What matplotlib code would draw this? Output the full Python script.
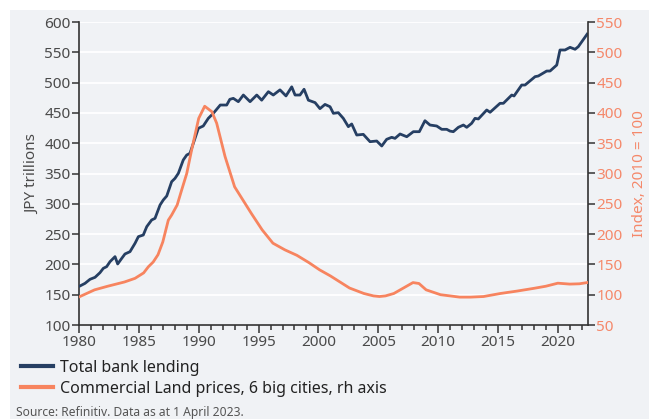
import matplotlib.pyplot as plt
from matplotlib.patches import Rectangle
from matplotlib.lines import Line2D
from matplotlib.ticker import MultipleLocator

plt.rcParams['font.family'] = ['Noto Sans', 'DejaVu Sans']

# Total bank lending, JPY trillions (left axis)
lend_year = [1980.08, 1980.5, 1980.92, 1981.34, 1981.75, 1982.03, 1982.31, 1982.59, 1983.01, 1983.23,
             1983.57, 1983.84, 1984.26, 1984.68, 1984.96, 1985.37, 1985.66, 1986.07, 1986.35, 1986.77,
             1987.04, 1987.33, 1987.74, 1988.02, 1988.3, 1988.71, 1989.0, 1989.27, 1989.69, 1989.97,
             1990.38, 1990.8, 1991.22, 1991.8, 1992.34, 1992.6, 1992.89, 1993.31, 1993.73, 1994.29,
             1994.85, 1995.26, 1995.82, 1996.23, 1996.79, 1997.29, 1997.77, 1998.05, 1998.46, 1998.8,
             1999.16, 1999.72, 2000.13, 2000.55, 2000.97, 2001.25, 2001.66, 2002.08, 2002.5, 2002.78,
             2003.2, 2003.75, 2004.31, 2004.87, 2005.29, 2005.7, 2006.12, 2006.4, 2006.82, 2007.38,
             2007.93, 2008.43, 2008.9, 2009.32, 2009.88, 2010.3, 2010.72, 2010.99, 2011.27, 2011.69,
             2012.11, 2012.39, 2012.8, 2013.08, 2013.36, 2014.06, 2014.34, 2015.17, 2015.45, 2016.15,
             2016.34, 2016.98, 2017.26, 2018.1, 2018.37, 2019.07, 2019.35, 2019.91, 2020.18, 2020.6,
             2021.02, 2021.44, 2021.71, 2022.45]
lend_val = [164.4, 168.7, 175.4, 178.7, 186.3, 193.5, 196.3, 204.5, 212.8, 200.7,
            210.0, 217.2, 221.0, 234.8, 245.8, 248.5, 262.3, 273.3, 276.0, 298.0,
            306.3, 312.9, 336.5, 342.0, 350.3, 372.3, 380.5, 383.3, 408.0, 424.6,
            428.4, 441.0, 449.3, 463.0, 463.0, 472.4, 474.0, 468.5, 479.5, 468.5,
            479.5, 471.0, 485.0, 479.5, 488.0, 478.0, 493.0, 479.5, 479.5, 489.0,
            471.0, 467.0, 457.0, 464.0, 460.2, 449.3, 450.4, 441.0, 427.3, 431.7,
            413.5, 414.6, 402.5, 403.6, 395.4, 406.4, 409.7, 408.0, 415.2, 410.7,
            419.0, 419.0, 437.1, 430.0, 428.4, 422.9, 422.9, 420.0, 419.0, 426.2,
            430.0, 426.2, 432.8, 441.0, 440.0, 454.8, 451.0, 465.8, 465.8, 479.5,
            477.9, 496.0, 496.0, 509.8, 510.9, 519.1, 519.1, 529.0, 553.8, 553.8,
            558.2, 555.0, 559.3, 580.0]

# Commercial land prices, 6 big cities, index 2010 = 100 (right axis)
land_year = [1980.08, 1981.3, 1982.4, 1983.8, 1984.68, 1985.4, 1985.79, 1986.2, 1986.6, 1987.0,
             1987.46, 1987.74, 1988.2, 1988.58, 1989.0, 1989.41, 1990.0, 1990.5, 1991.1, 1991.5,
             1992.2, 1993.0, 1994.4, 1995.3, 1996.2, 1997.2, 1998.2, 1999.2, 2000.1, 2001.0,
             2002.6, 2003.8, 2004.6, 2005.1, 2005.6, 2006.3, 2007.1, 2007.9, 2008.4, 2009.0,
             2010.2, 2011.8, 2012.7, 2013.8, 2015.2, 2016.6, 2018.0, 2019.0, 2020.0, 2021.0,
             2021.8, 2022.45]
land_val = [97, 108, 114, 121, 127, 136, 146, 154, 166, 187,
            223, 231.5, 248, 273, 300, 339, 391, 411, 402, 383,
            328, 278, 234, 207, 185, 174, 165, 153, 141, 131,
            111, 102, 98, 97, 98, 102, 111, 120, 118.5, 108,
            100, 96, 96, 97, 102, 106, 110.5, 114, 119, 117.5,
            118, 120]

lend_label = 'Total bank lending'
land_label = 'Commercial Land prices, 6 big cities, rh axis'
source = 'Source: Refinitiv. Data as at 1 April 2023.'

navy = '#263f63'
salmon = '#f7845f'
salmon_txt = '#f5886a'
grey_txt = '#4a4a4a'
bg = '#f0f2f5'

fig = plt.figure(figsize=(6.49, 4.19), dpi=100, facecolor='white')
fig.patches.append(Rectangle((10 / 649, 0), 1, 1 - 10 / 419, transform=fig.transFigure,
                             facecolor=bg, edgecolor='none', zorder=-10))

ax = fig.add_axes([79 / 649, 1 - 325 / 419, (588 - 79) / 649, (325 - 22) / 419])
ax.set_facecolor(bg)
ax2 = ax.twinx()

ax.set_xlim(1980, 2022.52)
ax.set_ylim(100, 600)
ax2.set_ylim(50, 550)

ax.yaxis.set_major_locator(MultipleLocator(50))
ax2.yaxis.set_major_locator(MultipleLocator(50))
ax.xaxis.set_major_locator(MultipleLocator(5))
ax.xaxis.set_minor_locator(MultipleLocator(1))
ax.grid(axis='y', color='white', linewidth=1.3)
ax.set_axisbelow(True)

ax.plot(lend_year, lend_val, color=navy, linewidth=2.0, zorder=3)
ax2.plot(land_year, land_val, color=salmon, linewidth=2.0, zorder=3)

for a in (ax, ax2):
    a.spines['top'].set_visible(False)
    for s in ('left', 'right', 'bottom'):
        a.spines[s].set_color('#333333')
        a.spines[s].set_linewidth(1.2)
ax.spines['right'].set_visible(False)
ax2.spines['left'].set_visible(False)
ax2.spines['bottom'].set_visible(False)

ax.tick_params(axis='y', length=5, width=1.1, color='#333333', labelcolor=grey_txt, labelsize=11, pad=1)
ax.tick_params(axis='x', which='major', length=6, width=1.1, color='#333333', labelcolor=grey_txt, labelsize=11, pad=1)
ax.tick_params(axis='x', which='minor', length=3.5, width=1.1, color='#333333')
ax2.tick_params(axis='y', length=5, width=1.1, color='#333333', labelcolor=salmon_txt, labelsize=11, pad=1)

ax.set_ylabel('JPY trillions', color=grey_txt, fontsize=11, labelpad=3)
ax2.set_ylabel('Index, 2010 = 100', color=salmon_txt, fontsize=11, labelpad=7)

handles = [Line2D([], [], color=navy, linewidth=3), Line2D([], [], color=salmon, linewidth=3)]
fig.legend(handles, [lend_label, land_label], loc='upper left', bbox_to_anchor=(21 / 649, 1 - 360 / 419),
           frameon=False, fontsize=11.5, handlelength=2.0, handletextpad=0.45, labelspacing=0.3,
           borderaxespad=0, borderpad=0, labelcolor='#222222')

fig.text(16 / 649, 1 - 412 / 419, source, fontsize=8.7, color='#555555', va='center')

fig.savefig('out.png', dpi=100, facecolor=fig.get_facecolor())
